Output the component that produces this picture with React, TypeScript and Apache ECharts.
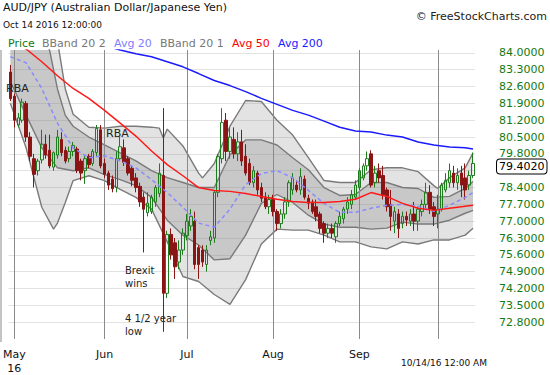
import React, { useEffect, useRef } from "react";
import * as echarts from "echarts";

const FONT = "DejaVu Sans";

// [open, close, low, high] per trading session, Apr 29 .. Oct 14 2016
const candles: number[][] = [
  [83.2, 82.1, 82.0, 83.5], [82.2, 81.2, 80.9, 82.3], [81.0, 81.3, 80.9, 81.5], [81.2, 81.95, 81.1, 82.1],
  [81.9, 80.5, 80.3, 82.0], [80.5, 79.7, 79.5, 80.7], [79.6, 78.95, 78.4, 79.8], [79.1, 79.5, 78.9, 79.6],
  [79.55, 80.2, 79.4, 80.8], [80.2, 79.75, 79.6, 80.6], [79.95, 79.3, 79.2, 80.6], [79.25, 79.85, 79.1, 79.9],
  [79.75, 80.5, 79.6, 80.8], [80.4, 79.85, 79.7, 80.7], [79.95, 79.5, 79.4, 80.1], [79.6, 79.9, 79.45, 80.1],
  [79.9, 80.15, 79.7, 80.3], [80.0, 79.1, 79.0, 80.1], [79.5, 79.0, 78.7, 79.6], [79.1, 79.6, 78.55, 79.7],
  [79.7, 79.35, 79.2, 79.8], [79.4, 79.9, 79.3, 80.0], [79.85, 80.85, 79.7, 81.0], [80.8, 79.3, 79.2, 81.0],
  [79.4, 78.95, 78.8, 79.6], [79.0, 78.5, 78.3, 79.1], [78.75, 78.35, 78.2, 78.9], [78.4, 79.6, 78.2, 79.9],
  [79.6, 80.1, 79.5, 80.5], [80.05, 79.45, 79.3, 80.4], [79.6, 79.0, 78.9, 79.7], [79.2, 78.7, 78.45, 79.3],
  [78.8, 78.4, 78.2, 79.0], [78.45, 77.8, 77.6, 78.6], [78.0, 77.5, 75.7, 78.2], [77.35, 77.75, 77.2, 78.2],
  [77.4, 78.0, 77.3, 78.1], [77.8, 78.4, 77.6, 78.5], [78.15, 79.0, 78.0, 79.4], [78.9, 74.0, 72.4, 81.7],
  [74.0, 76.45, 73.8, 76.6], [76.45, 75.6, 75.4, 76.7], [76.1, 75.1, 74.6, 76.3], [75.3, 75.8, 75.0, 76.2],
  [75.8, 76.5, 75.6, 76.7], [76.4, 77.0, 76.2, 77.3], [76.8, 77.2, 76.6, 77.5], [77.0, 75.2, 75.0, 77.4],
  [75.9, 75.2, 74.6, 76.0], [75.8, 75.3, 75.1, 76.0], [75.2, 75.8, 74.9, 76.0], [76.2, 76.35, 76.0, 76.6],
  [76.3, 78.2, 76.1, 78.3], [78.2, 79.7, 78.0, 79.8], [79.6, 81.1, 79.4, 81.7], [81.2, 79.9, 79.5, 81.5],
  [79.9, 80.5, 79.6, 80.9], [80.4, 79.8, 79.6, 80.9], [79.8, 80.3, 79.5, 80.7], [80.3, 79.5, 79.3, 80.8],
  [79.7, 79.0, 78.9, 80.2], [79.4, 78.6, 78.5, 79.6], [78.6, 79.1, 78.4, 79.3], [79.0, 78.3, 78.1, 79.1],
  [78.4, 77.95, 77.8, 78.6], [78.0, 77.6, 77.5, 78.2], [77.6, 77.9, 77.3, 78.1], [77.9, 77.4, 77.2, 78.1],
  [77.4, 76.9, 76.6, 77.5], [76.9, 77.3, 76.7, 77.5], [77.3, 77.8, 77.1, 78.0], [77.8, 78.6, 77.6, 78.7],
  [78.3, 78.8, 78.1, 79.0], [78.5, 78.3, 78.2, 78.7], [78.3, 78.85, 78.1, 79.2], [78.75, 78.0, 77.9, 78.9],
  [77.95, 77.75, 77.5, 78.1], [77.8, 77.4, 77.3, 77.9], [77.6, 77.2, 77.0, 77.9], [77.3, 76.7, 76.5, 77.4],
  [76.9, 76.5, 76.1, 77.0], [76.5, 76.7, 76.3, 76.9], [76.7, 76.5, 76.3, 76.9], [76.35, 76.9, 76.1, 77.0],
  [76.9, 77.2, 76.8, 77.4], [77.1, 77.5, 76.9, 77.6], [77.5, 77.8, 77.3, 78.0], [77.7, 78.1, 77.5, 78.3],
  [78.0, 78.5, 77.9, 78.7], [78.4, 79.1, 78.3, 79.2], [78.8, 79.3, 78.7, 79.4], [79.3, 79.6, 79.1, 79.9],
  [79.8, 78.5, 78.4, 79.95], [78.6, 79.0, 78.4, 79.3], [79.1, 78.8, 78.6, 79.4], [78.9, 78.1, 77.9, 79.3],
  [78.3, 77.6, 77.4, 78.4], [77.7, 77.2, 76.6, 78.3], [77.0, 77.4, 76.5, 77.6], [77.3, 76.7, 76.3, 77.5],
  [76.9, 77.2, 76.7, 77.4], [77.2, 77.05, 76.8, 77.4], [77.0, 77.3, 76.8, 77.5], [77.3, 77.0, 76.6, 77.8],
  [77.0, 77.5, 76.6, 77.6], [77.4, 77.7, 77.2, 77.9], [77.7, 78.2, 77.5, 78.6], [78.2, 77.5, 77.3, 78.5],
  [77.6, 77.2, 76.8, 77.8], [77.3, 77.5, 76.7, 78.1], [77.5, 78.5, 77.4, 78.6], [78.3, 78.7, 78.2, 79.0],
  [78.6, 79.1, 78.4, 79.4], [79.0, 78.6, 78.4, 79.3], [78.6, 78.9, 78.3, 79.2], [79.0, 78.5, 78.0, 79.3],
  [78.8, 78.3, 77.9, 79.4], [78.5, 78.9, 78.3, 79.1], [78.9, 79.402, 78.8, 79.85],
];

const categories = candles.map((_, i) => String(i));

// month starts (session index) and their labels
const monthIdx = [1, 24, 45, 67, 89, 109];
const monthText = ["May\n16", "Jun", "Jul", "Aug", "Sep", ""];

// indicator readings: [session index, value]
const avg200: number[][] = [
  [0, 85.5], [4, 85.3], [8, 85.1], [12, 84.9], [16, 84.7], [20, 84.5], [24, 84.3], [28, 84.12], [32, 83.96],
  [36, 83.84], [40, 83.63], [44, 83.42], [48, 83.14], [52, 82.85], [56, 82.64], [60, 82.39], [64, 82.11],
  [68, 81.86], [72, 81.61], [76, 81.41], [80, 81.16], [84, 80.91], [88, 80.75], [92, 80.71], [96, 80.58],
  [100, 80.5], [104, 80.29], [108, 80.17], [112, 80.09], [116, 80.05], [118, 80.0],
];
const avg50: number[][] = [
  [0, 84.49], [4, 84.16], [8, 83.63], [12, 83.05], [16, 82.52], [20, 82.11], [24, 81.61], [28, 81.08],
  [32, 80.54], [36, 79.92], [40, 79.35], [44, 78.89], [48, 78.4], [52, 78.28], [56, 78.24], [60, 78.15],
  [64, 78.03], [68, 77.91], [72, 77.82], [76, 77.78], [80, 77.78], [84, 77.82], [88, 77.91], [92, 78.19],
  [96, 78.03], [100, 77.74], [104, 77.54], [108, 77.45], [112, 77.54], [116, 77.62], [118, 77.66],
];
const avg20: number[][] = [
  [0, 83.84], [4, 83.59], [8, 82.52], [12, 81.08], [16, 80.05], [20, 79.64], [24, 79.72], [28, 79.51],
  [32, 79.22], [36, 78.73], [40, 78.19], [44, 77.58], [48, 76.92], [52, 76.75], [56, 77.5], [60, 78.52],
  [64, 78.98], [68, 79.1], [72, 78.81], [76, 78.28], [80, 77.74], [84, 77.37], [88, 77.37], [92, 77.54],
  [96, 77.66], [100, 77.7], [104, 77.62], [108, 77.41], [112, 77.66], [116, 77.99], [118, 78.19],
];
const bb1Upper: number[][] = [
  [0, 85.3], [4, 85.3], [8, 84.95], [10, 84.1], [12, 82.5], [14, 81.4], [16, 80.95], [20, 80.5], [24, 80.17],
  [28, 79.84], [32, 79.51], [36, 79.1], [40, 78.81], [44, 78.61], [48, 78.4], [52, 78.4], [56, 79.76],
  [60, 80.38], [64, 80.38], [68, 80.17], [72, 79.64], [76, 79.14], [80, 78.4], [84, 78.07], [88, 78.11],
  [92, 78.61], [96, 78.61], [100, 78.4], [104, 78.36], [108, 77.99], [112, 78.03], [116, 78.36], [118, 78.65],
];
const bb1Lower: number[][] = [
  [0, 82.81], [4, 81.41], [8, 80.05], [12, 79.22], [16, 79.1], [20, 79.22], [24, 78.94], [28, 78.73],
  [32, 78.48], [36, 77.99], [40, 77.04], [44, 76.42], [48, 76.01], [52, 75.39], [56, 75.44], [60, 76.42],
  [64, 77.74], [68, 78.11], [72, 77.78], [76, 77.25], [80, 76.88], [84, 76.75], [88, 76.75], [92, 76.67],
  [96, 76.71], [100, 76.96], [104, 76.88], [108, 76.88], [112, 77.04], [116, 77.33], [118, 77.45],
];
const bb2Upper: number[][] = [
  [0, 86.0], [4, 85.8], [8, 85.2], [12, 84.5], [14, 82.5], [16, 81.45], [20, 80.91], [24, 80.87], [28, 80.95],
  [32, 80.95], [36, 80.91], [38, 80.87], [39, 80.46], [40, 80.83], [44, 80.13], [48, 79.0], [49, 78.8],
  [52, 79.4], [56, 80.95], [60, 82.02], [64, 81.98], [68, 81.2], [72, 80.58], [76, 79.64], [80, 78.69],
  [84, 78.61], [88, 78.61], [92, 79.14], [96, 79.22], [100, 79.22], [104, 79.06], [108, 78.48], [109, 78.36],
  [112, 78.81], [116, 79.22], [118, 79.84],
];
const bb2Lower: number[][] = [
  [0, 81.9], [4, 80.05], [8, 77.58], [11, 76.67], [12, 76.92], [14, 77.78], [16, 78.69], [20, 78.89],
  [24, 78.69], [28, 78.32], [32, 77.99], [36, 77.5], [40, 76.14], [44, 74.7], [48, 74.49], [52, 73.95],
  [56, 73.54], [60, 74.57], [64, 76.05], [68, 76.67], [72, 76.63], [76, 76.63], [80, 76.42], [84, 76.14],
  [88, 76.14], [92, 75.93], [96, 75.85], [100, 76.14], [104, 76.05], [108, 76.22], [112, 76.22],
  [116, 76.42], [118, 76.71],
];

const legendItems = [
  { text: "Price", color: "#117a11", x: 8 },
  { text: "BBand 20 2", color: "#777777", x: 42 },
  { text: "Avg 20", color: "#8080ff", x: 114 },
  { text: "BBand 20 1", color: "#777777", x: 160 },
  { text: "Avg 50", color: "#ff0000", x: 232 },
  { text: "Avg 200", color: "#1a1aff", x: 278 },
];

const notes = [
  { text: "RBA", x: 6, y: 88, size: 11 },
  { text: "RBA", x: 106, y: 133, size: 11 },
  { text: "Brexit", x: 125, y: 270, size: 10 },
  { text: "wins", x: 125, y: 283, size: 10 },
  { text: "4 1/2 year", x: 125, y: 318, size: 10 },
  { text: "low", x: 125, y: 331, size: 10 },
];

function bandFill(upper: number[][], lower: number[][], fill: string, z: number) {
  return {
    type: "custom",
    silent: true,
    clip: true,
    z,
    data: [0],
    renderItem: (_p: any, api: any) => {
      const pts = [
        ...upper.map((d) => api.coord(d)),
        ...lower.slice().reverse().map((d) => api.coord(d)),
      ];
      return { type: "polygon", shape: { points: pts }, style: { fill, stroke: "none" } };
    },
  };
}

function bandLine(data: number[][], z: number) {
  return {
    type: "line",
    data,
    symbol: "none",
    silent: true,
    z,
    lineStyle: { color: "#7a7a7a", width: 1.4 },
  };
}

export default function App() {
  const ref = useRef<HTMLDivElement>(null);
  useEffect(() => {
    if (!ref.current) return;
    const chart = echarts.init(ref.current, undefined, { renderer: "svg" });
    const last = candles[candles.length - 1][1];
    chart.setOption({
      animation: false,
      backgroundColor: "#ffffff",
      grid: { left: 0, right: 75, top: 50, bottom: 33, containLabel: false },
      xAxis: {
        type: "category",
        data: categories,
        boundaryGap: true,
        axisLine: { show: false },
        axisTick: { show: false },
        splitLine: { show: false },
        axisLabel: {
          interval: (index: number) => monthIdx.includes(index),
          formatter: (_v: string, index: number) => {
            const k = monthIdx.indexOf(index);
            return k >= 0 ? monthText[k] : "";
          },
          color: "#111",
          fontFamily: FONT,
          fontSize: 11,
          lineHeight: 14,
          margin: 8,
        },
      },
      yAxis: {
        type: "value",
        position: "right",
        min: 72.1,
        max: 84.12,
        interval: 0.7,
        scale: true,
        axisLine: { show: false },
        axisTick: { show: false },
        splitLine: { show: true, showMinLine: false, showMaxLine: false, lineStyle: { color: "#e2e2e2", width: 1 } },
        axisLabel: {
          showMinLabel: false,
          showMaxLabel: false,
          // the tick hidden behind the last-price box is left blank
          formatter: (v: number) => (Math.abs(v - last) < 0.35 ? "" : v.toFixed(4)),
          color: "#137a13",
          fontFamily: FONT,
          fontSize: 11,
          margin: 24,
        },
      },
      graphic: [
        { type: "text", left: 3, top: 2, style: { text: "AUD/JPY (Australian Dollar/Japanese Yen)", font: `11px "${FONT}"`, fill: "#111" } },
        { type: "text", left: 3, top: 20, style: { text: "Oct 14 2016 12:00:00", font: `9px "${FONT}"`, fill: "#111" } },
        { type: "text", right: 3, top: 11, style: { text: "© FreeStockCharts.com", font: `11px "${FONT}"`, fill: "#222" } },
        ...legendItems.map((l) => ({
          type: "text",
          x: l.x,
          y: 43,
          style: { text: l.text, font: `11px "${FONT}"`, fill: l.color, verticalAlign: "middle" },
        })),
        ...notes.map((n) => ({
          type: "text",
          x: n.x,
          y: n.y,
          z: 100,
          style: { text: n.text, font: `${n.size}px "${FONT}"`, fill: "#222", verticalAlign: "middle" },
        })),
        { type: "text", x: 401, y: 363, style: { text: "10/14/16 12:00 AM", font: `9px "${FONT}"`, fill: "#111", verticalAlign: "middle" } },
        { type: "line", shape: { x1: 1, y1: 50, x2: 1, y2: 342 }, style: { stroke: "#888", lineWidth: 1 } },
      ],
      series: [
        bandFill(bb2Upper, bb2Lower, "rgba(128,128,128,0.22)", 1),
        bandFill(bb1Upper, bb1Lower, "rgba(128,128,128,0.27)", 2),
        bandLine(bb2Upper, 3),
        bandLine(bb2Lower, 3),
        bandLine(bb1Upper, 3),
        {
          ...bandLine(bb1Lower, 3),
          markLine: {
            silent: true,
            symbol: "none",
            label: { show: false },
            lineStyle: { color: "#8a8a8a", width: 1, type: "solid" },
            data: monthIdx.map((i) => ({ xAxis: String(i) })),
          },
        },
        {
          type: "candlestick",
          data: candles,
          barWidth: 3,
          z: 5,
          itemStyle: {
            color: "rgba(255,255,255,0)",
            color0: "#8b1414",
            borderColor: "#1d7d1d",
            borderColor0: "#8b1414",
            borderWidth: 1,
          },
          markLine: {
            silent: true,
            symbol: "none",
            z: 20,
            lineStyle: { color: "rgba(0,0,0,0)", width: 0 },
            label: {
              show: true,
              position: "end",
              distance: 22,
              offset: [0, 3],
              formatter: () => last.toFixed(4),
              color: "#000",
              fontFamily: FONT,
              fontSize: 11,
              lineHeight: 12,
              backgroundColor: "#fff",
              borderColor: "#000",
              borderWidth: 1,
              borderRadius: 3,
              padding: [1, 2, 1, 2],
            },
            data: [{ yAxis: last }],
          },
        },
        { type: "line", data: avg20, symbol: "none", silent: true, z: 6, lineStyle: { color: "#8a8aff", width: 1.5, type: [4, 3] } },
        { type: "line", data: avg50, symbol: "none", silent: true, z: 6, lineStyle: { color: "#ff1a1a", width: 1.5 } },
        { type: "line", data: avg200, symbol: "none", silent: true, z: 6, lineStyle: { color: "#1a1aff", width: 1.5 } },
      ],
    });
    return () => chart.dispose();
  }, []);
  return <div ref={ref} style={{ position: "fixed", left: 0, top: 0, width: 550, height: 375 }} />;
}
